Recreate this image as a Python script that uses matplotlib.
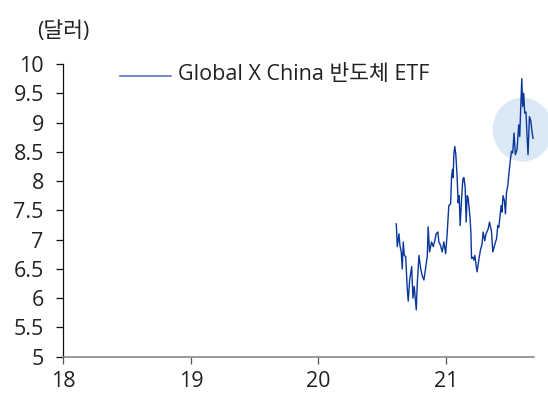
import matplotlib
matplotlib.use("Agg")
import matplotlib.pyplot as plt
from matplotlib.patches import Ellipse
from matplotlib.lines import Line2D

plt.rcParams['font.family'] = ['Open Sans', 'Noto Sans CJK KR', 'DejaVu Sans']

# Fractional year (e.g. 20.61 = Aug 2020) and price in USD
years = [
    20.610, 20.618, 20.631, 20.639, 20.649, 20.657, 20.665, 20.673, 20.684, 20.696,
    20.704, 20.715, 20.731, 20.741, 20.751, 20.767, 20.774, 20.788, 20.801, 20.813,
    20.827, 20.840, 20.853, 20.860, 20.871, 20.887, 20.900, 20.910, 20.923, 20.936,
    20.944, 20.957, 20.970, 20.983, 20.997, 21.009, 21.022, 21.036, 21.044, 21.051,
    21.056, 21.062, 21.069, 21.077, 21.087, 21.095, 21.103, 21.111, 21.122, 21.132,
    21.140, 21.150, 21.158, 21.166, 21.173, 21.187, 21.195, 21.200, 21.210, 21.218,
    21.226, 21.236, 21.244, 21.257, 21.270, 21.283, 21.291, 21.304, 21.314, 21.330,
    21.341, 21.349, 21.356, 21.367, 21.377, 21.388, 21.396, 21.406, 21.414, 21.424,
    21.432, 21.439, 21.447, 21.458, 21.466, 21.474, 21.484, 21.492, 21.505, 21.513,
    21.523, 21.533, 21.544, 21.557, 21.570, 21.578, 21.586, 21.594, 21.601, 21.609,
    21.617, 21.627, 21.635, 21.643, 21.654, 21.664, 21.674, 21.682,
]
prices = [
    7.27, 6.88, 7.10, 6.90, 6.79, 6.50, 6.96, 6.73, 6.71, 6.17,
    5.95, 6.31, 6.54, 6.00, 6.20, 5.80, 6.22, 6.73, 6.51, 6.39,
    6.31, 6.51, 6.71, 7.22, 6.79, 6.96, 6.88, 6.96, 7.10, 7.13,
    6.96, 6.90, 6.79, 6.96, 6.76, 7.10, 7.58, 7.61, 8.08, 8.20,
    8.06, 8.48, 8.59, 8.45, 8.08, 7.63, 7.75, 7.24, 7.69, 8.03,
    8.06, 7.90, 7.30, 7.75, 7.72, 7.41, 7.13, 6.68, 6.70, 6.65,
    6.73, 6.56, 6.45, 6.65, 6.82, 6.93, 7.13, 6.98, 7.10, 7.18,
    7.30, 7.21, 7.15, 6.79, 6.87, 6.96, 7.01, 7.24, 7.21, 7.41,
    7.58, 7.47, 7.75, 7.66, 7.44, 7.80, 7.92, 8.10, 8.37, 8.51,
    8.48, 8.82, 8.45, 8.54, 8.96, 8.76, 9.27, 9.75, 9.27, 9.50,
    9.16, 9.18, 8.79, 8.45, 9.10, 9.04, 8.85, 8.73,
]

x_ticks = [18, 19, 20, 21]
x_labels = ['18', '19', '20', '21']
y_ticks = [5, 5.5, 6, 6.5, 7, 7.5, 8, 8.5, 9, 9.5, 10]
y_labels = ['5', '5.5', '6', '6.5', '7', '7.5', '8', '8.5', '9', '9.5', '10']

series_name = 'Global X China 반도체 ETF'
unit_label = '(달러)'

line_color = '#0a379c'
text_color = '#222222'
font_size = 15.5

fig = plt.figure(figsize=(5.48, 3.94), dpi=100)
ax = fig.add_axes([0.1155, 0.0947, 0.8590, 0.7429])

# highlight around the recent peak
ax.add_patch(Ellipse((21.601, 8.88), 0.47, 1.09, facecolor='#dbe8f5',
                     edgecolor='none', zorder=1, clip_on=False))

ax.plot(years, prices, color=line_color, lw=1.0, zorder=2)

ax.set_xlim(18, 21.69)
ax.set_ylim(5, 10)
ax.set_xticks(x_ticks)
ax.set_xticklabels(x_labels)
ax.set_yticks(y_ticks)
ax.set_yticklabels(y_labels)

for s in ['top', 'right']:
    ax.spines[s].set_visible(False)
ax.spines['left'].set_color('#111111')
ax.spines['left'].set_linewidth(0.9)
ax.spines['bottom'].set_color('#888888')
ax.spines['bottom'].set_linewidth(1.2)

ax.tick_params(axis='y', direction='out', length=5, width=0.9, color='#111111',
               labelsize=font_size, labelcolor=text_color, pad=9)
ax.tick_params(axis='x', direction='out', length=5, width=0.9, color='#555555',
               labelsize=font_size, labelcolor=text_color, pad=5)

# legend entry
fig.add_artist(Line2D([120 / 548, 171 / 548], [1 - 75.7 / 394, 1 - 75.7 / 394],
                      color='#5a78bf', lw=1.2, transform=fig.transFigure))
fig.text(178 / 548, 1 - 75 / 394, series_name, fontsize=font_size, color=text_color,
         ha='left', va='center')

fig.text(63 / 548, 1 - 32 / 394, unit_label, fontsize=font_size, color=text_color,
         ha='center', va='center')

fig.savefig('out.png', dpi=100)
